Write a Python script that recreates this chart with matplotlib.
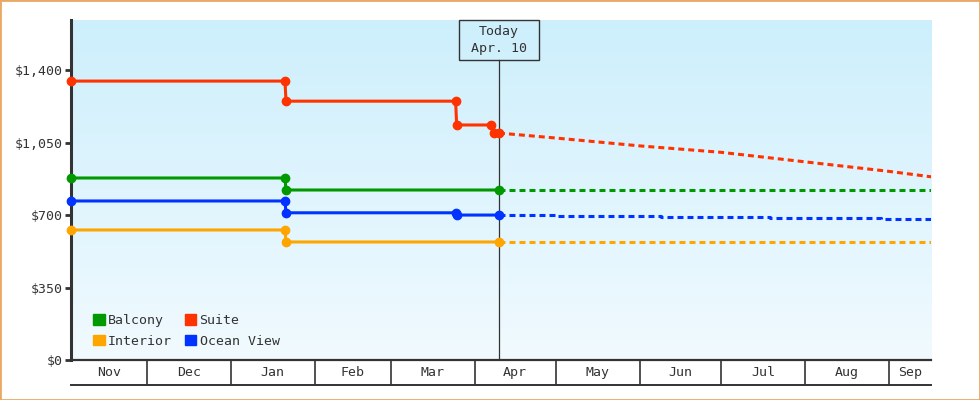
import numpy as np
import matplotlib
matplotlib.use("Agg")
import matplotlib.pyplot as plt
import matplotlib.dates as mdates
import matplotlib.transforms as mtrans
from matplotlib.patches import Patch, Rectangle
from matplotlib.colors import LinearSegmentedColormap
from datetime import datetime

plt.rcParams['font.family'] = ['DejaVu Sans Mono']
plt.rcParams['lines.scale_dashes'] = False

# price history (solid) and forecast (dashed)
hist_dates = {
    'Suite': ['2024-11-03', '2025-01-21', '2025-01-21 09:00', '2025-03-25', '2025-03-25 09:00',
              '2025-04-07', '2025-04-08', '2025-04-10'],
    'Balcony': ['2024-11-03', '2025-01-21', '2025-01-21 09:00', '2025-04-10'],
    'Ocean View': ['2024-11-03', '2025-01-21', '2025-01-21 09:00', '2025-03-25', '2025-03-25 09:00',
                   '2025-04-10'],
    'Interior': ['2024-11-03', '2025-01-21', '2025-01-21 09:00', '2025-04-10'],
}
hist_prices = {
    'Suite': [1347, 1347, 1250, 1250, 1135, 1135, 1096, 1096],
    'Balcony': [879, 879, 821, 821],
    'Ocean View': [768, 768, 711, 711, 700, 700],
    'Interior': [628, 628, 570, 570],
}
fc_dates = {
    'Suite': ['2025-04-10', '2025-05-01', '2025-06-01', '2025-07-01', '2025-08-01',
              '2025-09-01', '2025-09-17'],
    'Balcony': ['2025-04-10', '2025-09-17'],
    'Ocean View': ['2025-04-10', '2025-05-01', '2025-06-09', '2025-07-19', '2025-08-29', '2025-09-17'],
    'Interior': ['2025-04-10', '2025-09-17'],
}
fc_prices = {
    'Suite': [1096, 1072, 1034, 1003, 957, 911, 884],
    'Balcony': [821, 821],
    'Ocean View': [700, 694, 689, 684, 679, 679],
    'Interior': [570, 570],
}
colors = {'Balcony': '#009900', 'Suite': '#ff3300', 'Interior': '#ffa500', 'Ocean View': '#0033ff'}
legend_order = ['Balcony', 'Interior', 'Suite', 'Ocean View']

yticks = [0, 350, 700, 1050, 1400]
ytick_labels = ['$0', '$350', '$700', '$1,050', '$1,400']
months = ['2024-11-01', '2024-12-01', '2025-01-01', '2025-02-01', '2025-03-01', '2025-04-01',
          '2025-05-01', '2025-06-01', '2025-07-01', '2025-08-01', '2025-09-01', '2025-10-01']
month_labels = ['Nov', 'Dec', 'Jan', 'Feb', 'Mar', 'Apr', 'May', 'Jun', 'Jul', 'Aug', 'Sep']
today = '2025-04-10'
today_label = 'Today\nApr. 10'


def d(s):
    fmt = '%Y-%m-%d %H:%M' if ' ' in s else '%Y-%m-%d'
    return mdates.date2num(datetime.strptime(s, fmt))


xmin, xmax = d('2024-11-03'), d('2025-09-16') + 0.5
dark = '#333333'

fig = plt.figure(figsize=(9.8, 4.0), dpi=100)
ax = fig.add_axes([71 / 980, 40 / 400, 860 / 980, 340 / 400])

# background gradient, darker at the top
grad = np.linspace(0, 1, 256).reshape(-1, 1)
cmap = LinearSegmentedColormap.from_list('bg', ['#cdeffc', '#f1faff'])
ax.imshow(grad, extent=[0, 1, 0, 1], transform=ax.transAxes, aspect='auto', cmap=cmap, zorder=0)

for name in ['Interior', 'Ocean View', 'Balcony', 'Suite']:
    c = colors[name]
    hx = [d(s) for s in hist_dates[name]]
    ax.plot(hx, hist_prices[name], color=c, lw=2.2, marker='o', ms=6, clip_on=False, zorder=4)
    fx = [d(s) for s in fc_dates[name]]
    ax.plot(fx, fc_prices[name], color=c, lw=2.2, dashes=(4.3, 2.9),
            drawstyle='steps-post' if name == 'Ocean View' else 'default', zorder=3)

ax.set_xlim(xmin, xmax)
ax.set_ylim(0, 1642)
ax.set_yticks(yticks)
ax.set_yticklabels(ytick_labels, fontsize=9.5, color=dark)
ax.set_xticks([])
ax.tick_params(axis='y', length=4, width=2, color=dark, pad=2)
for s in ['top', 'right']:
    ax.spines[s].set_visible(False)
ax.spines['left'].set_linewidth(2.2)
ax.spines['left'].set_color(dark)
ax.spines['bottom'].set_linewidth(1.6)
ax.spines['bottom'].set_color(dark)

# today marker
tx = d(today)
ax.axvline(tx, ymin=0, ymax=300 / 340, color=dark, lw=0.9, zorder=2)
btrans = mtrans.blended_transform_factory(ax.transData, ax.transAxes)
ax.add_patch(Rectangle((tx - 14.75, 300 / 340), 29.5, 40 / 340, transform=btrans,
                       fill=False, ec=dark, lw=1.0, clip_on=False, zorder=5))
ax.text(tx, 320 / 340, today_label, transform=btrans, ha='center', va='center',
        fontsize=9.5, color=dark, linespacing=1.4, zorder=6)

handles = [Patch(color=colors[n], label=n) for n in legend_order]
ax.legend(handles=handles, ncol=2, loc='lower left', bbox_to_anchor=(0.026, 0.036),
          frameon=False, fontsize=9.5, handlelength=0.85, handleheight=0.85,
          handletextpad=0.25, columnspacing=1.0, labelspacing=0.58, borderpad=0,
          borderaxespad=0, labelcolor=dark)

# month band below the axis
ax2 = fig.add_axes([71 / 980, 15 / 400, 860 / 980, 25 / 400])
ax2.set_xlim(xmin, xmax)
ax2.set_ylim(0, 1)
ax2.set_xticks([])
ax2.set_yticks([])
ax2.patch.set_alpha(0)
for s in ['top', 'right', 'left']:
    ax2.spines[s].set_visible(False)
ax2.spines['bottom'].set_linewidth(1.4)
ax2.spines['bottom'].set_color(dark)
for i, lab in enumerate(month_labels):
    a, b = d(months[i]), d(months[i + 1])
    if xmin < a < xmax:
        ax2.axvline(a, color=dark, lw=1.2)
    mid = (max(a, xmin) + min(b, xmax)) / 2
    ax2.text(mid, 0.5, lab, ha='center', va='center', fontsize=9.5, color=dark)

fig.patches.append(Rectangle((0, 0), 1, 1, transform=fig.transFigure, fill=False,
                             ec='#e9a866', lw=2.0))

fig.savefig('out.png', dpi=100)
